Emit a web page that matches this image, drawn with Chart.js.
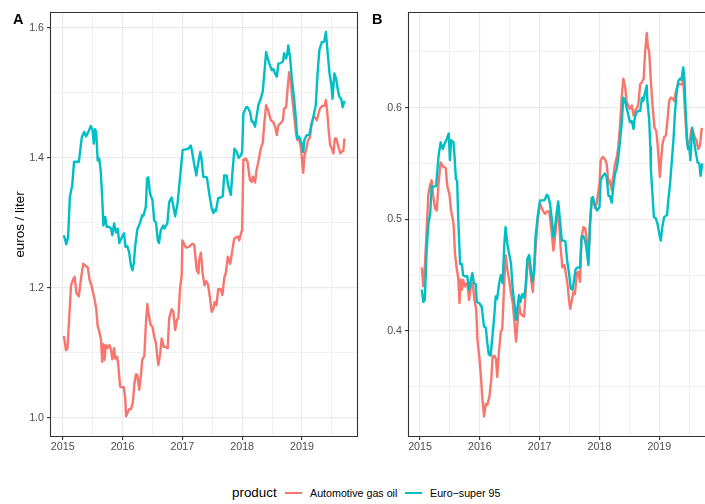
<!DOCTYPE html>
<html>
<head>
<meta charset="utf-8">
<script src="https://cdn.jsdelivr.net/npm/chart.js@4.4.1/dist/chart.umd.min.js"></script>
<style>
  html, body { margin: 0; padding: 0; background: #fff; overflow: hidden; }
  body { width: 705px; height: 504px; position: relative; font-family: "Liberation Sans", Arial, sans-serif; }
  canvas { position: absolute; top: 0; }
  #cA { left: 0; }
  #cB { left: 360px; }
  .tag { position: absolute; font-weight: bold; font-size: 14.5px; line-height: 14.5px; color: #000; }
  .leg { position: absolute; top: 483px; height: 20px; line-height: 20px; white-space: nowrap; color: #000; }
  .key { position: absolute; top: 492px; width: 17px; height: 2.4px; }
</style>
</head>
<body>
<canvas id="cA" width="360" height="460"></canvas>
<canvas id="cB" width="345" height="460"></canvas>
<div class="tag" style="left:13px; top:12px;">A</div>
<div class="tag" style="left:372px; top:12px;">B</div>
<div class="leg" style="left:232px; font-size:13.4px;">product</div>
<div class="key" style="left:285px; background:#F8766D;"></div>
<div class="leg" style="left:310px; font-size:10.7px;">Automotive gas oil</div>
<div class="key" style="left:405px; background:#00BFC4;"></div>
<div class="leg" style="left:430px; font-size:10.7px;">Euro−super 95</div>
<script>
/* ─── Data ───────────────────────────────────────────────────────────────── */
// Panel A: consumer prices (euros / liter)
const aDieselYear = [2015.02,2015.055,2015.08,2015.11,2015.14,2015.18,2015.20,2015.23,2015.27,2015.31,2015.345,2015.38,2015.42,2015.45,2015.48,2015.53,2015.56,2015.585,2015.61,2015.64,2015.66,2015.68,2015.70,2015.72,2015.75,2015.78,2015.81,2015.83,2015.86,2015.88,2015.91,2015.93,2015.96,2015.98,2016.02,2016.045,2016.06,2016.09,2016.11,2016.14,2016.17,2016.20,2016.225,2016.25,2016.28,2016.31,2016.33,2016.365,2016.39,2016.415,2016.44,2016.47,2016.50,2016.53,2016.56,2016.58,2016.60,2016.63,2016.655,2016.69,2016.72,2016.755,2016.78,2016.82,2016.85,2016.88,2016.91,2016.935,2016.96,2016.99,2017.00,2017.06,2017.11,2017.17,2017.20,2017.24,2017.27,2017.28,2017.31,2017.34,2017.37,2017.40,2017.43,2017.46,2017.49,2017.52,2017.54,2017.57,2017.60,2017.64,2017.67,2017.70,2017.73,2017.76,2017.80,2017.82,2017.865,2017.90,2017.925,2017.95,2017.98,2018.00,2018.02,2018.06,2018.09,2018.13,2018.16,2018.18,2018.215,2018.24,2018.27,2018.31,2018.345,2018.37,2018.40,2018.435,2018.48,2018.52,2018.55,2018.58,2018.605,2018.64,2018.68,2018.70,2018.735,2018.76,2018.785,2018.81,2018.835,2018.87,2018.90,2018.92,2018.95,2018.985,2019.01,2019.02,2019.04,2019.08,2019.10,2019.135,2019.16,2019.19,2019.22,2019.25,2019.27,2019.30,2019.34,2019.375,2019.40,2019.42,2019.45,2019.47,2019.50,2019.525,2019.55,2019.575,2019.60,2019.64,2019.66,2019.69,2019.71];
const aDieselPrice = [1.126,1.104,1.107,1.155,1.204,1.214,1.217,1.192,1.187,1.217,1.237,1.234,1.231,1.212,1.204,1.184,1.168,1.141,1.133,1.120,1.086,1.113,1.089,1.112,1.107,1.112,1.104,1.090,1.107,1.091,1.094,1.081,1.048,1.047,1.047,1.031,1.002,1.009,1.013,1.013,1.022,1.053,1.067,1.065,1.043,1.067,1.089,1.095,1.143,1.175,1.158,1.143,1.140,1.125,1.114,1.094,1.081,1.099,1.122,1.109,1.109,1.107,1.153,1.167,1.163,1.135,1.150,1.155,1.197,1.220,1.273,1.262,1.263,1.268,1.266,1.227,1.222,1.242,1.254,1.222,1.204,1.210,1.205,1.186,1.163,1.168,1.178,1.173,1.198,1.198,1.189,1.215,1.224,1.248,1.237,1.248,1.275,1.278,1.279,1.273,1.284,1.289,1.397,1.399,1.394,1.366,1.363,1.371,1.362,1.381,1.394,1.414,1.424,1.453,1.481,1.473,1.458,1.455,1.448,1.435,1.450,1.453,1.458,1.476,1.478,1.507,1.532,1.522,1.494,1.463,1.438,1.428,1.430,1.414,1.386,1.377,1.402,1.417,1.427,1.432,1.453,1.463,1.462,1.458,1.466,1.476,1.480,1.480,1.489,1.473,1.438,1.420,1.414,1.407,1.430,1.430,1.420,1.407,1.409,1.411,1.430];

const aEuroYear = [2015.02,2015.06,2015.09,2015.12,2015.16,2015.19,2015.27,2015.32,2015.36,2015.39,2015.43,2015.47,2015.50,2015.52,2015.54,2015.56,2015.585,2015.61,2015.635,2015.66,2015.68,2015.71,2015.735,2015.77,2015.81,2015.83,2015.86,2015.89,2015.92,2015.946,2015.99,2016.025,2016.05,2016.08,2016.11,2016.14,2016.165,2016.19,2016.21,2016.25,2016.29,2016.33,2016.35,2016.39,2016.41,2016.43,2016.46,2016.50,2016.53,2016.56,2016.59,2016.61,2016.64,2016.68,2016.70,2016.75,2016.78,2016.82,2016.85,2016.88,2016.92,2016.96,2017.005,2017.05,2017.10,2017.14,2017.16,2017.20,2017.235,2017.25,2017.30,2017.32,2017.35,2017.41,2017.45,2017.49,2017.52,2017.54,2017.56,2017.60,2017.64,2017.675,2017.70,2017.74,2017.76,2017.81,2017.84,2017.87,2017.91,2017.94,2017.98,2018.00,2018.02,2018.065,2018.09,2018.13,2018.16,2018.18,2018.215,2018.24,2018.27,2018.31,2018.345,2018.37,2018.40,2018.42,2018.455,2018.495,2018.52,2018.55,2018.58,2018.605,2018.64,2018.68,2018.70,2018.735,2018.755,2018.77,2018.80,2018.83,2018.87,2018.90,2018.92,2018.95,2018.995,2019.02,2019.04,2019.08,2019.12,2019.15,2019.19,2019.23,2019.26,2019.29,2019.33,2019.37,2019.40,2019.42,2019.46,2019.49,2019.51,2019.54,2019.57,2019.60,2019.625,2019.655,2019.68,2019.71];
const aEuroPrice = [1.281,1.267,1.278,1.340,1.358,1.394,1.394,1.432,1.440,1.433,1.440,1.449,1.442,1.422,1.444,1.440,1.396,1.399,1.381,1.340,1.296,1.309,1.294,1.294,1.291,1.281,1.299,1.285,1.291,1.269,1.278,1.284,1.263,1.264,1.255,1.235,1.227,1.238,1.263,1.291,1.299,1.312,1.311,1.325,1.368,1.370,1.345,1.335,1.304,1.300,1.273,1.269,1.289,1.296,1.291,1.300,1.332,1.339,1.325,1.310,1.330,1.368,1.412,1.413,1.414,1.419,1.411,1.389,1.373,1.384,1.409,1.399,1.371,1.370,1.345,1.322,1.315,1.320,1.318,1.338,1.339,1.341,1.373,1.373,1.360,1.343,1.381,1.414,1.409,1.400,1.404,1.410,1.468,1.478,1.478,1.471,1.456,1.456,1.448,1.463,1.481,1.491,1.503,1.530,1.563,1.555,1.545,1.535,1.537,1.530,1.525,1.545,1.546,1.548,1.561,1.553,1.561,1.573,1.555,1.522,1.489,1.458,1.430,1.433,1.422,1.409,1.428,1.435,1.435,1.448,1.463,1.481,1.530,1.566,1.578,1.579,1.594,1.571,1.530,1.513,1.491,1.530,1.522,1.504,1.494,1.491,1.478,1.488];

// Panel B: prices without taxes (euros / liter)
const bDieselYear = [2015.03,2015.055,2015.08,2015.11,2015.14,2015.17,2015.195,2015.22,2015.25,2015.28,2015.31,2015.345,2015.39,2015.43,2015.455,2015.49,2015.52,2015.56,2015.585,2015.61,2015.64,2015.66,2015.68,2015.70,2015.72,2015.75,2015.79,2015.82,2015.85,2015.88,2015.91,2015.94,2015.96,2015.99,2016.015,2016.04,2016.07,2016.10,2016.125,2016.16,2016.19,2016.215,2016.24,2016.27,2016.29,2016.32,2016.35,2016.375,2016.405,2016.43,2016.46,2016.49,2016.52,2016.55,2016.58,2016.605,2016.63,2016.655,2016.68,2016.71,2016.74,2016.765,2016.795,2016.825,2016.85,2016.885,2016.91,2016.94,2016.97,2017.005,2017.03,2017.06,2017.09,2017.12,2017.16,2017.20,2017.23,2017.25,2017.285,2017.31,2017.35,2017.38,2017.415,2017.44,2017.47,2017.49,2017.51,2017.54,2017.565,2017.59,2017.62,2017.645,2017.675,2017.70,2017.73,2017.76,2017.785,2017.815,2017.84,2017.87,2017.89,2017.93,2017.96,2018.00,2018.02,2018.055,2018.09,2018.12,2018.15,2018.17,2018.205,2018.23,2018.26,2018.29,2018.315,2018.345,2018.37,2018.40,2018.43,2018.455,2018.48,2018.51,2018.54,2018.57,2018.59,2018.62,2018.65,2018.68,2018.71,2018.74,2018.76,2018.79,2018.81,2018.83,2018.86,2018.89,2018.92,2018.95,2018.97,2018.99,2019.01,2019.03,2019.055,2019.085,2019.11,2019.135,2019.165,2019.19,2019.23,2019.25,2019.28,2019.31,2019.345,2019.38,2019.40,2019.42,2019.44,2019.465,2019.48,2019.51,2019.54,2019.565,2019.59,2019.62,2019.65,2019.68,2019.71];
const bDieselPrice = [0.457,0.440,0.457,0.490,0.523,0.531,0.535,0.521,0.510,0.508,0.533,0.551,0.547,0.546,0.530,0.523,0.508,0.496,0.469,0.457,0.447,0.425,0.446,0.437,0.446,0.440,0.443,0.428,0.440,0.443,0.428,0.419,0.392,0.377,0.362,0.341,0.3235,0.335,0.334,0.341,0.356,0.377,0.378,0.375,0.359,0.382,0.399,0.402,0.440,0.468,0.455,0.446,0.434,0.425,0.407,0.3905,0.407,0.425,0.416,0.414,0.413,0.434,0.460,0.462,0.449,0.435,0.455,0.480,0.501,0.514,0.511,0.507,0.505,0.507,0.507,0.489,0.472,0.481,0.499,0.513,0.475,0.457,0.459,0.451,0.440,0.428,0.420,0.428,0.435,0.433,0.452,0.453,0.444,0.484,0.493,0.492,0.483,0.461,0.496,0.517,0.517,0.510,0.517,0.532,0.553,0.556,0.554,0.550,0.532,0.535,0.526,0.538,0.550,0.556,0.565,0.585,0.609,0.626,0.618,0.605,0.602,0.599,0.602,0.593,0.597,0.599,0.603,0.621,0.623,0.626,0.648,0.667,0.654,0.651,0.623,0.600,0.582,0.579,0.568,0.553,0.538,0.553,0.568,0.574,0.575,0.588,0.606,0.609,0.608,0.606,0.615,0.621,0.621,0.621,0.626,0.606,0.588,0.568,0.565,0.571,0.581,0.579,0.574,0.571,0.563,0.566,0.582];

const bEuroYear = [2015.03,2015.055,2015.08,2015.11,2015.14,2015.17,2015.195,2015.22,2015.27,2015.31,2015.345,2015.38,2015.42,2015.44,2015.48,2015.50,2015.52,2015.56,2015.575,2015.60,2015.62,2015.64,2015.67,2015.70,2015.72,2015.75,2015.79,2015.82,2015.85,2015.875,2015.90,2015.93,2015.95,2015.99,2016.03,2016.07,2016.10,2016.125,2016.15,2016.18,2016.21,2016.24,2016.265,2016.29,2016.32,2016.35,2016.38,2016.41,2016.43,2016.46,2016.49,2016.52,2016.55,2016.58,2016.605,2016.62,2016.655,2016.68,2016.71,2016.74,2016.765,2016.795,2016.825,2016.85,2016.88,2016.905,2016.93,2016.97,2017.005,2017.04,2017.08,2017.12,2017.14,2017.17,2017.20,2017.23,2017.25,2017.285,2017.31,2017.34,2017.37,2017.41,2017.43,2017.46,2017.49,2017.52,2017.55,2017.575,2017.60,2017.63,2017.675,2017.70,2017.73,2017.76,2017.785,2017.815,2017.84,2017.87,2017.89,2017.93,2017.96,2018.00,2018.02,2018.055,2018.09,2018.12,2018.15,2018.17,2018.205,2018.23,2018.26,2018.29,2018.315,2018.345,2018.37,2018.40,2018.43,2018.455,2018.48,2018.51,2018.54,2018.57,2018.59,2018.62,2018.65,2018.68,2018.71,2018.73,2018.76,2018.79,2018.80,2018.83,2018.85,2018.86,2018.885,2018.91,2018.94,2018.97,2019.00,2019.025,2019.05,2019.08,2019.13,2019.15,2019.18,2019.21,2019.24,2019.26,2019.29,2019.32,2019.345,2019.37,2019.40,2019.42,2019.44,2019.465,2019.48,2019.50,2019.52,2019.55,2019.57,2019.60,2019.64,2019.67,2019.69,2019.72];
const bEuroPrice = [0.437,0.426,0.428,0.472,0.496,0.505,0.530,0.529,0.530,0.557,0.569,0.563,0.569,0.571,0.577,0.553,0.571,0.569,0.558,0.536,0.535,0.499,0.460,0.460,0.450,0.449,0.449,0.437,0.445,0.452,0.443,0.442,0.426,0.425,0.422,0.404,0.403,0.389,0.379,0.378,0.395,0.413,0.431,0.429,0.442,0.450,0.443,0.478,0.493,0.478,0.469,0.461,0.437,0.423,0.410,0.418,0.432,0.426,0.433,0.430,0.440,0.465,0.468,0.457,0.444,0.453,0.484,0.504,0.517,0.517,0.517,0.522,0.521,0.515,0.502,0.484,0.490,0.506,0.516,0.499,0.481,0.481,0.480,0.463,0.452,0.438,0.437,0.446,0.455,0.457,0.457,0.484,0.485,0.481,0.473,0.459,0.493,0.519,0.520,0.511,0.508,0.511,0.535,0.539,0.541,0.538,0.521,0.521,0.515,0.529,0.541,0.546,0.556,0.571,0.585,0.609,0.606,0.600,0.594,0.587,0.588,0.581,0.591,0.596,0.597,0.597,0.609,0.606,0.613,0.620,0.606,0.590,0.565,0.544,0.523,0.502,0.501,0.496,0.487,0.481,0.493,0.502,0.504,0.517,0.532,0.553,0.574,0.594,0.614,0.624,0.626,0.625,0.636,0.626,0.597,0.571,0.563,0.565,0.553,0.582,0.575,0.563,0.551,0.550,0.539,0.550];

// Axis ticks
const yearMajor  = [2015, 2016, 2017, 2018, 2019];
const yearMinor  = [2015.5, 2016.5, 2017.5, 2018.5, 2019.5];
const aYMajor    = [1.0, 1.2, 1.4, 1.6];
const aYMinor    = [1.1, 1.3, 1.5];
const bYMajor    = [0.4, 0.5, 0.6];
const bYMinor    = [0.35, 0.45, 0.55, 0.65];

/* ─── Helpers ────────────────────────────────────────────────────────────── */
const RED  = '#F8766D';
const TEAL = '#00BFC4';
const FONT = '"Liberation Sans", Arial, sans-serif';

const isIn = (v, list) => list.some(m => Math.abs(m - v) < 1e-6);
const pts  = (xs, ys) => xs.map((x, i) => ({ x, y: ys[i] }));

function series(label, xs, ys, color, order) {
  return {
    label, data: pts(xs, ys), borderColor: color, backgroundColor: color,
    borderWidth: 2.4, pointRadius: 0, tension: 0, order,
    borderJoinStyle: 'round', borderCapStyle: 'butt'
  };
}

function axis(major, minor, fmt) {
  return {
    type: 'linear',
    border: { display: false },
    afterBuildTicks: s => { s.ticks = major.concat(minor).sort((a, b) => a - b).map(v => ({ value: v })); },
    grid: {
      color: '#EBEBEB',
      lineWidth: c => isIn(c.tick.value, major) ? 1.2 : 0.7,
      tickLength: 3,
      tickWidth: 1.1,
      tickColor: c => isIn(c.tick.value, major) ? '#333333' : 'rgba(0,0,0,0)'
    },
    ticks: {
      autoSkip: false, maxRotation: 0, color: '#4D4D4D',
      font: { family: FONT, size: 10.7 },
      callback: v => isIn(v, major) ? fmt(v) : ''
    }
  };
}

const panelFrame = {
  id: 'panelFrame',
  afterDraw(chart, args, opts) {
    const { ctx, chartArea: a } = chart;
    ctx.save();
    ctx.strokeStyle = '#333333';
    ctx.lineWidth = 1.1;
    ctx.beginPath();
    if (opts.right !== false) {
      ctx.rect(a.left + 0.5, a.top + 0.5, a.right - a.left - 1, a.bottom - a.top - 1);
    } else {
      ctx.moveTo(chart.width, a.top + 0.5);
      ctx.lineTo(a.left + 0.5, a.top + 0.5);
      ctx.lineTo(a.left + 0.5, a.bottom - 0.5);
      ctx.lineTo(chart.width, a.bottom - 0.5);
    }
    ctx.stroke();
    ctx.restore();
  }
};

function makePanel(id, p) {
  const x = axis(yearMajor, yearMinor, v => String(Math.round(v)));
  x.min = p.xMin; x.max = p.xMax;
  x.ticks.padding = 1;
  x.afterFit = s => { s.height = 23; };

  const y = axis(p.yMajor, p.yMinor, v => v.toFixed(1));
  y.min = p.yMin; y.max = p.yMax;
  y.ticks.padding = 3;
  y.afterFit = s => { s.width = p.yWidth; };
  if (p.title) {
    y.title = { display: true, text: p.title, color: '#000', padding: { top: 12, bottom: 0 },
                font: { family: FONT, size: 13.4 } };
  }

  new Chart(document.getElementById(id), {
    type: 'line',
    data: { datasets: p.datasets },
    options: {
      responsive: false, animation: false, devicePixelRatio: 1,
      layout: { padding: { top: 12, right: p.padRight, left: 0, bottom: 0 } },
      plugins: { legend: { display: false }, tooltip: { enabled: false }, panelFrame: { right: p.frameRight } },
      scales: { x, y }
    },
    plugins: [panelFrame]
  });
}

/* ─── Main ───────────────────────────────────────────────────────────────── */
makePanel('cA', {
  datasets: [
    series('Automotive gas oil', aDieselYear, aDieselPrice, RED, 1),
    series('Euro-super 95', aEuroYear, aEuroPrice, TEAL, 0)
  ],
  xMin: 2014.788, xMax: 2019.936, yMin: 0.9703, yMax: 1.6246,
  yMajor: aYMajor, yMinor: aYMinor, yWidth: 50, padRight: 2, frameRight: true,
  title: 'euros / liter'
});

makePanel('cB', {
  datasets: [
    series('Automotive gas oil', bDieselYear, bDieselPrice, RED, 1),
    series('Euro-super 95', bEuroYear, bEuroPrice, TEAL, 0)
  ],
  xMin: 2014.799, xMax: 2019.764, yMin: 0.3051, yMax: 0.6857,
  yMajor: bYMajor, yMinor: bYMinor, yWidth: 48, padRight: 0, frameRight: false
});
</script>
</body>
</html>
